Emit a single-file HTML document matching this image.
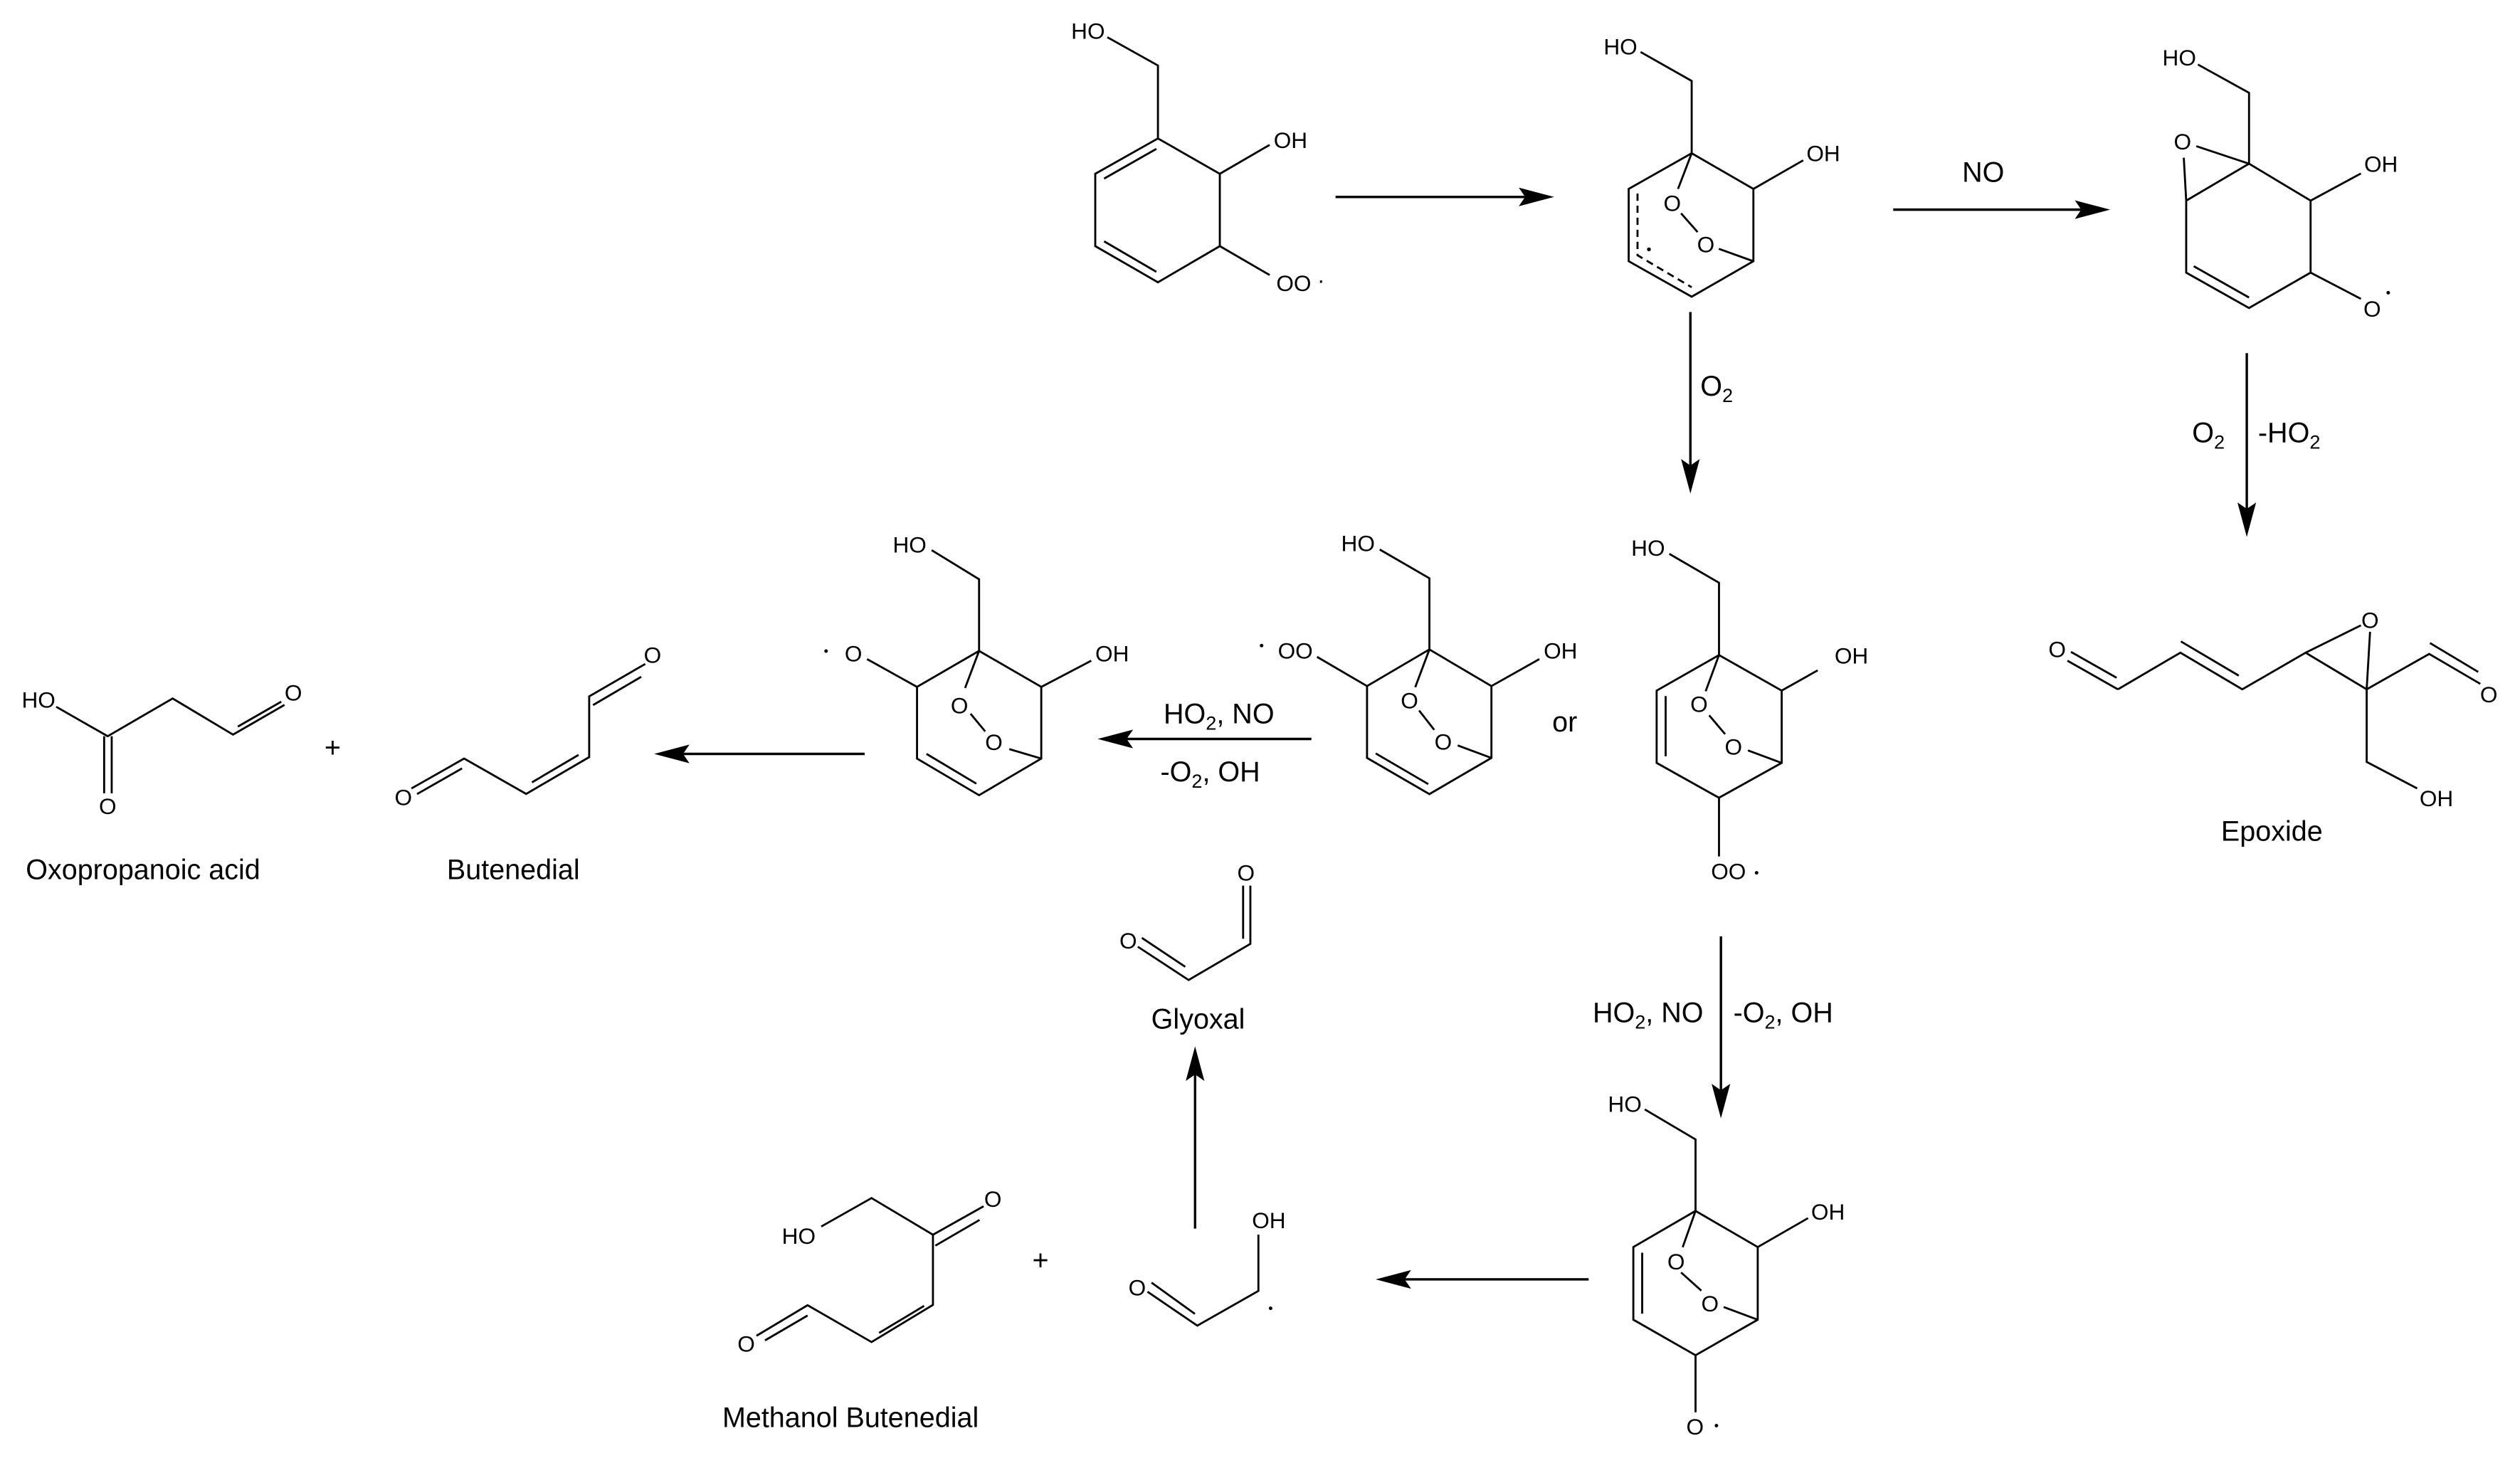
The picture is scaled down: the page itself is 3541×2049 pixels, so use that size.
<!DOCTYPE html>
<html><head><meta charset="utf-8"><style>
html,body{margin:0;padding:0;background:#fff;}
svg{display:block;}
text{font-family:"Liberation Sans",Arial,sans-serif;fill:#000;}
.a{font-size:14px;}
.l{font-size:17.5px;}
</style></head><body>
<svg width="3541" height="2049" viewBox="0 0 1568 907" xmlns="http://www.w3.org/2000/svg">
<rect width="1568" height="907" fill="#fff"/>
<g stroke="#000" stroke-width="1.25" fill="none" stroke-linecap="butt" stroke-linejoin="miter">
<!-- Struct1 -->
<polyline points="689,23 720.5,40.6 720.5,86"/>
<polyline points="720.5,86 759,108 759,153 720.5,175.5 681.5,153 681.5,108 720.5,86"/>
<line x1="687" y1="111" x2="719.5" y2="92.5"/>
<line x1="687" y1="150" x2="719.5" y2="169"/>
<line x1="759" y1="108" x2="790" y2="90"/>
<line x1="759" y1="153" x2="790" y2="171"/>

<!-- Struct2 -->
<polyline points="1020.8,32.2 1052.6,50.2 1052.6,95.2"/>
<polyline points="1052.6,95.2 1091,117.4 1091,162.4 1052.6,184.5 1013.4,162.4 1013.4,117.4 1052.6,95.2"/>
<line x1="1091" y1="117.4" x2="1122" y2="99.6"/>
<line x1="1052.6" y1="95.2" x2="1044.1" y2="117.4"/>
<line x1="1046" y1="132.6" x2="1056.3" y2="144.3"/>
<line x1="1069.5" y1="154.7" x2="1091" y2="162.4"/>
<polyline points="1018.9,120.3 1018.9,158.7 1052.6,178.6" stroke-dasharray="4.5,3"/>

<!-- Struct3 -->
<polyline points="1367.6,40 1399.4,57.6 1399.4,101.7"/>
<line x1="1366.6" y1="90.8" x2="1399.4" y2="101.7"/>
<line x1="1358.8" y1="98" x2="1360.3" y2="124.7"/>
<polyline points="1360.3,124.7 1399.4,101.7 1437.7,124.7 1437.7,169.5 1399.4,191.5 1360.3,169.5 1360.3,124.7"/>
<line x1="1365" y1="165.5" x2="1399.4" y2="185"/>
<line x1="1437.7" y1="124.7" x2="1469" y2="107.8"/>
<line x1="1437.7" y1="169.5" x2="1469" y2="185.8"/>

<!-- Epoxide product -->
<line x1="1286.4" y1="411" x2="1317.8" y2="428.8"/>
<line x1="1288.6" y1="405.5" x2="1317" y2="421.6"/>
<polyline points="1317.8,428.8 1356.7,406 1395.2,428.8 1434.6,406 1472.6,428.8 1511.5,406.8 1543.3,425.4"/>
<line x1="1357" y1="399" x2="1393" y2="420.3"/>
<line x1="1512" y1="400" x2="1542" y2="418"/>
<line x1="1434.6" y1="406" x2="1469" y2="389"/>
<line x1="1474.7" y1="393" x2="1472.6" y2="428.8"/>
<polyline points="1472.6,428.8 1472.6,474 1504,490.5"/>

<!-- Struct4 (OO radical) -->
<polyline points="858.5,341.8 889.4,359.7 889.4,404"/>
<polyline points="889.4,404 928,426.8 928,471.5 889.4,494 850.6,471.5 850.6,426.8 889.4,404"/>
<line x1="856" y1="468.7" x2="888.7" y2="487.8"/>
<line x1="819.5" y1="408.6" x2="850.6" y2="426.8"/>
<line x1="928" y1="426.8" x2="957.8" y2="410"/>
<line x1="889.4" y1="404" x2="880.6" y2="427.5"/>
<line x1="883" y1="442" x2="892.4" y2="454"/>
<line x1="907" y1="463.7" x2="928" y2="471.5"/>

<!-- Struct5 -->
<polyline points="1038.7,344.5 1069.6,362.5 1069.6,407.5"/>
<polyline points="1069.6,407.5 1108.6,429.6 1108.6,474.6 1069.6,496.3 1030.8,474.6 1030.8,429.6 1069.6,407.5"/>
<line x1="1036.4" y1="433" x2="1036.4" y2="470.5"/>
<line x1="1108.6" y1="429.6" x2="1131" y2="417"/>
<line x1="1069.6" y1="496.3" x2="1069.6" y2="532.8"/>
<line x1="1069.6" y1="407.5" x2="1061.3" y2="430"/>
<line x1="1063.5" y1="445" x2="1073.4" y2="456.7"/>
<line x1="1087.6" y1="466.8" x2="1108.6" y2="474.6"/>

<!-- Struct6 (O radical) -->
<polyline points="579.7,342.2 609.2,360.3 609.2,404.9"/>
<polyline points="609.2,404.9 647.9,427.3 647.9,471.9 609.2,494.7 570.6,471.9 570.6,427.3 609.2,404.9"/>
<line x1="576.5" y1="469" x2="607.5" y2="487.5"/>
<line x1="539.5" y1="410" x2="570.6" y2="427.3"/>
<line x1="647.9" y1="427.3" x2="679" y2="411"/>
<line x1="609.2" y1="404.9" x2="600.5" y2="428"/>
<line x1="603.9" y1="444" x2="613" y2="455"/>
<line x1="628" y1="466" x2="647.9" y2="471.9"/>

<!-- Butenedial -->
<polyline points="401.5,413 366.6,433.2 366.6,471 327.4,493.9 288.8,471.9 256,490.5"/>
<line x1="369" y1="438.6" x2="399" y2="421"/>
<line x1="360" y1="469.6" x2="331" y2="486.7"/>
<line x1="287.5" y1="478" x2="259.5" y2="494"/>

<!-- Oxopropanoic acid -->
<polyline points="35,439.7 67,458 107.4,434.5 145,457 177,438.5"/>
<line x1="64.8" y1="458" x2="64.8" y2="493.5"/>
<line x1="69.5" y1="458" x2="69.5" y2="493.5"/>
<line x1="148" y1="452" x2="175" y2="436.5"/>

<!-- Glyoxal -->
<polyline points="708,589 739.6,609.7 778,587.2 778,551"/>
<line x1="773.5" y1="584" x2="773.5" y2="551"/>
<line x1="710.5" y1="583.5" x2="737.5" y2="601.5"/>

<!-- Glycolaldehyde radical -->
<polyline points="714,803.7 745,824.8 783,803.2 783,768.2"/>
<line x1="716.5" y1="798" x2="743.5" y2="817.5"/>

<!-- Methanol butenedial -->
<polyline points="511,763.1 542.3,745.4 580.5,768.2 612,750.5"/>
<line x1="582" y1="775" x2="609.5" y2="759"/>
<polyline points="580.5,768.2 580.5,811.9 542.3,835 502.5,812.1 470.7,831.1"/>
<line x1="575" y1="812.5" x2="547" y2="829.3"/>
<line x1="502.5" y1="818.5" x2="476" y2="834"/>

<!-- Struct7 -->
<polyline points="1023.4,690.2 1055,708.9 1055,753.4"/>
<polyline points="1055,753.4 1093.7,775.9 1093.7,821.1 1055,843.2 1016.3,821.1 1016.3,775.9 1055,753.4"/>
<line x1="1021.8" y1="779.4" x2="1021.8" y2="817.3"/>
<line x1="1093.7" y1="775.9" x2="1125" y2="757.9"/>
<line x1="1055" y1="843.2" x2="1055" y2="878.7"/>
<line x1="1055" y1="753.4" x2="1047" y2="776"/>
<line x1="1046" y1="791.7" x2="1058.6" y2="803"/>
<line x1="1072.5" y1="813.2" x2="1093.7" y2="821.1"/>
</g>

<!-- Arrows -->
<g stroke="#000" stroke-width="1.5" fill="none">
<line x1="831" y1="122.4" x2="952" y2="122.4"/>
<line x1="1178" y1="130.3" x2="1298" y2="130.3"/>
<line x1="1051.8" y1="194" x2="1051.8" y2="292"/>
<line x1="1398" y1="219.6" x2="1398" y2="320"/>
<line x1="816" y1="459.7" x2="698" y2="459.7"/>
<line x1="538" y1="469" x2="422" y2="469"/>
<line x1="1070.8" y1="582.5" x2="1070.8" y2="680"/>
<line x1="988.5" y1="796" x2="871" y2="796"/>
<line x1="743.6" y1="764.4" x2="743.6" y2="665"/>
</g>
<g fill="#000">
<polygon points="967,122.4 945,116.6 949,122.4 945,128.2"/>
<polygon points="1313,130.3 1291,124.5 1295,130.3 1291,136.1"/>
<polygon points="1051.8,307 1046,285.5 1051.8,289.5 1057.6,285.5"/>
<polygon points="1398,334 1392.2,312.5 1398,316.5 1403.8,312.5"/>
<polygon points="683,459.7 705,453.9 701,459.7 705,465.5"/>
<polygon points="407,469 429,463.2 425,469 429,474.8"/>
<polygon points="1070.8,695.8 1065,674.3 1070.8,678.3 1076.6,674.3"/>
<polygon points="856,796 878,790.2 874,796 878,801.8"/>
<polygon points="743.6,651 737.8,672.5 743.6,668.5 749.4,672.5"/>
<circle cx="1026" cy="155" r="1.2"/>
</g>

<!-- Atom labels -->
<g class="a" text-anchor="middle" dominant-baseline="central">
<text x="677" y="19">HO</text>
<text x="803" y="87">OH</text>
<text x="805" y="176">OO</text><text x="822" y="174">·</text>
<text x="1008.3" y="28.8">HO</text>
<text x="1134.5" y="95.2">OH</text>
<text x="1040.5" y="126.2">O</text>
<text x="1061.4" y="152">O</text>
<text x="1356" y="35.6">HO</text>
<text x="1358" y="88">O</text>
<text x="1481.5" y="102">OH</text>
<text x="1476" y="192">O</text>
<circle cx="1486" cy="182" r="1.1" fill="#000"/>
<text x="1280" y="404">O</text>
<text x="1474.7" y="385.8">O</text>
<text x="1548.6" y="432">O</text>
<text x="1516" y="496.6">OH</text>
<text x="845" y="338">HO</text>
<text x="806" y="404.7">OO</text>
<circle cx="785" cy="401.6" r="1.1" fill="#000"/>
<text x="971" y="404.7">OH</text>
<text x="877" y="435.8">O</text>
<text x="898" y="461.4">O</text>
<text x="1025.5" y="340.7">HO</text>
<text x="1152" y="408">OH</text>
<text x="1057.2" y="438">O</text>
<text x="1078.6" y="464.5">O</text>
<text x="1075.5" y="542">OO</text>
<circle cx="1093" cy="543" r="1.1" fill="#000"/>
<text x="566" y="338.8">HO</text>
<text x="692" y="406.6">OH</text>
<text x="531" y="406.6">O</text>
<circle cx="514" cy="405" r="1.1" fill="#000"/>
<text x="597" y="438.8">O</text>
<text x="618.4" y="461.7">O</text>
<text x="406" y="407.5">O</text>
<text x="251" y="496">O</text>
<text x="24" y="435.4">HO</text>
<text x="67" y="501.5">O</text>
<text x="182.5" y="431">O</text>
<text x="775.3" y="543">O</text>
<text x="702" y="585.3">O</text>
<text x="707.6" y="801.2">O</text>
<text x="789.5" y="759.3">OH</text>
<circle cx="790.6" cy="814" r="1.1" fill="#000"/>
<text x="497" y="769">HO</text>
<text x="617.8" y="745.9">O</text>
<text x="464.3" y="836">O</text>
<text x="1011" y="686.8">HO</text>
<text x="1137.4" y="754">OH</text>
<text x="1042.9" y="785">O</text>
<text x="1064" y="811">O</text>
<text x="1054.7" y="887.7">O</text>
<circle cx="1068" cy="887" r="1.1" fill="#000"/>
</g>

<!-- Reagent / name labels -->
<g class="l">
<text x="1234" y="113" text-anchor="middle">NO</text>
<text x="1058" y="246">O<tspan font-size="12" dy="4">2</tspan></text>
<text x="1364" y="275">O<tspan font-size="12" dy="4">2</tspan></text>
<text x="1405" y="275">-HO<tspan font-size="12" dy="4">2</tspan></text>
<text x="724" y="450">HO<tspan font-size="12" dy="4">2</tspan><tspan dy="-4">, NO</tspan></text>
<text x="722" y="486">-O<tspan font-size="12" dy="4">2</tspan><tspan dy="-4">, OH</tspan></text>
<text x="973.6" y="455" text-anchor="middle">or</text>
<text x="991" y="636">HO<tspan font-size="12" dy="4">2</tspan><tspan dy="-4">, NO</tspan></text>
<text x="1078.5" y="636">-O<tspan font-size="12" dy="4">2</tspan><tspan dy="-4">, OH</tspan></text>
<text x="207" y="471" text-anchor="middle">+</text>
<text x="647.4" y="790" text-anchor="middle">+</text>
<text x="89" y="547" text-anchor="middle">Oxopropanoic acid</text>
<text x="319.4" y="547" text-anchor="middle">Butenedial</text>
<text x="745.5" y="640" text-anchor="middle">Glyoxal</text>
<text x="1413.6" y="523" text-anchor="middle">Epoxide</text>
<text x="529.2" y="888" text-anchor="middle">Methanol Butenedial</text>
</g>
</svg>
</body></html>
